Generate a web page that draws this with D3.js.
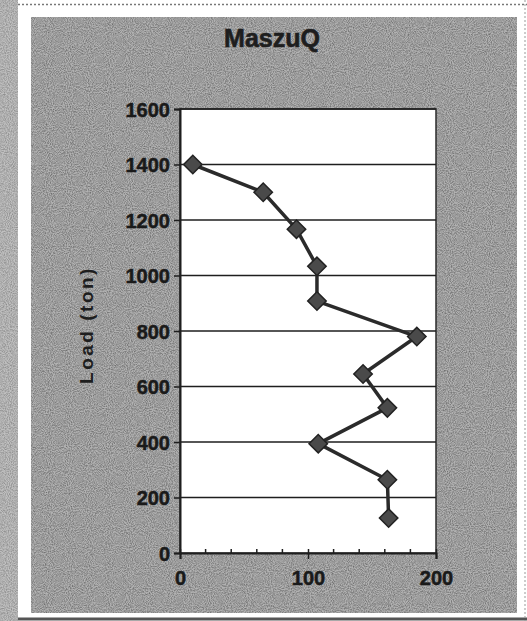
<!DOCTYPE html>
<html><head><meta charset="utf-8">
<script src="https://cdn.jsdelivr.net/npm/d3@7"></script>
<style>html,body{margin:0;padding:0;background:#fff;}svg{display:block;}</style>
</head><body>
<script>
// ---- data ----
const title = "MaszuQ";
const yLabel = "Load (ton)";
const loads = [1400, 1300, 1167, 1033, 908, 780, 645, 523, 394, 264, 126];
const settlements = [10, 65, 91, 107, 107, 185, 143, 162, 108, 162, 163];
const yTicks = [0, 200, 400, 600, 800, 1000, 1200, 1400, 1600];
const xTicks = [0, 100, 200];
const xMinorTicks = [20, 40, 60, 80, 120, 140, 160, 180];

const W = 527, H = 621;
const svg = d3.select("body").append("svg").attr("width", W).attr("height", H);

// noise texture filter
const defs = svg.append("defs");
const f = defs.append("filter").attr("id", "noise").attr("x", 0).attr("y", 0).attr("width", "100%").attr("height", "100%");
f.append("feTurbulence").attr("type", "fractalNoise").attr("baseFrequency", 0.95).attr("numOctaves", 2).attr("seed", 3).attr("result", "t");
f.append("feColorMatrix").attr("type", "matrix")
  .attr("values", "0 0 0 0 0  0 0 0 0 0  0 0 0 0 0  0 0 0 -1.6 1.1");

// page framing
svg.append("rect").attr("x", 0).attr("y", 0).attr("width", 18).attr("height", H).attr("fill", "#c0c0c0");
svg.append("rect").attr("x", 0).attr("y", 0).attr("width", 18).attr("height", H).attr("fill", "#000").attr("filter", "url(#noise)").attr("opacity", 0.3);
svg.append("line").attr("x1", 18).attr("x2", W).attr("y1", 4.5).attr("y2", 4.5).attr("stroke", "#777").attr("stroke-width", 1.5).attr("stroke-dasharray", "2,2");
svg.append("line").attr("x1", 18).attr("x2", W).attr("y1", 619).attr("y2", 619).attr("stroke", "#555").attr("stroke-width", 3);
svg.append("line").attr("x1", 525).attr("x2", 525).attr("y1", 0).attr("y2", H).attr("stroke", "#999").attr("stroke-width", 1).attr("stroke-dasharray", "2,2");

// chart background (grey scanned look)
const bg = {x: 31, y: 17, w: 486, h: 596};
svg.append("rect").attr("x", bg.x).attr("y", bg.y).attr("width", bg.w).attr("height", bg.h).attr("fill", "#b2b2b2");
svg.append("rect").attr("x", bg.x).attr("y", bg.y).attr("width", bg.w).attr("height", bg.h).attr("fill", "#000").attr("filter", "url(#noise)").attr("opacity", 0.42);

// scales
const x = d3.scaleLinear().domain([0, 200]).range([180, 436]);
const y = d3.scaleLinear().domain([0, 1600]).range([553, 109]);

// plot area
svg.append("rect").attr("x", x(0)).attr("y", y(1600)).attr("width", x(200) - x(0)).attr("height", y(0) - y(1600))
  .attr("fill", "#fff").attr("stroke", "#2a2a2a").attr("stroke-width", 1.5);

// gridlines
svg.append("g").selectAll("line").data(yTicks.filter(d => d > 0)).join("line")
  .attr("x1", x(0)).attr("x2", x(200)).attr("y1", d => y(d)).attr("y2", d => y(d))
  .attr("stroke", "#1e1e1e").attr("stroke-width", 1.5);

const fontFam = "Liberation Sans, Arial, sans-serif";

// y axis
const yAxis = d3.axisLeft(y).tickValues(yTicks).tickSize(6).tickPadding(4).tickFormat(d3.format("d"));
const gy = svg.append("g").attr("transform", `translate(${x(0)},0)`).call(yAxis);
gy.select(".domain").attr("stroke", "#1e1e1e").attr("stroke-width", 2);
gy.selectAll(".tick line").attr("stroke", "#1e1e1e").attr("stroke-width", 1.5);
gy.selectAll(".tick text").attr("font-family", fontFam).attr("font-size", 20)
  .attr("font-weight", "bold").attr("fill", "#1a1a1a").attr("stroke", "#1a1a1a").attr("stroke-width", 0.5).attr("dy", "0.36em");

// x axis
const xAxis = d3.axisBottom(x).tickValues(xTicks).tickSize(6).tickPadding(12).tickFormat(d3.format("d"));
const gx = svg.append("g").attr("transform", `translate(0,${y(0)})`).call(xAxis);
gx.select(".domain").attr("stroke", "#1e1e1e").attr("stroke-width", 2);
gx.selectAll(".tick line").attr("stroke", "#1e1e1e").attr("stroke-width", 1.5).attr("y1", -4);
gx.selectAll(".tick text").attr("font-family", fontFam).attr("font-size", 20)
  .attr("font-weight", "bold").attr("fill", "#1a1a1a").attr("stroke", "#1a1a1a").attr("stroke-width", 0.5);
// minor ticks (inside)
svg.append("g").selectAll("line").data(xMinorTicks).join("line")
  .attr("x1", d => x(d)).attr("x2", d => x(d)).attr("y1", y(0)).attr("y2", y(0) - 4)
  .attr("stroke", "#1e1e1e").attr("stroke-width", 1.5);

// line
const pts = loads.map((l, i) => ({load: l, s: settlements[i]}));
svg.append("path").datum(pts)
  .attr("d", d3.line().x(d => x(d.s)).y(d => y(d.load)))
  .attr("fill", "none").attr("stroke", "#2b2b2b").attr("stroke-width", 3.5).attr("stroke-linejoin", "round");

// markers
svg.append("g").selectAll("path").data(pts).join("path")
  .attr("transform", d => `translate(${x(d.s)},${y(d.load)}) rotate(45)`)
  .attr("d", d3.symbol().type(d3.symbolSquare).size(170))
  .attr("fill", "#4a4a4a").attr("stroke", "#222").attr("stroke-width", 1.5);

// title
svg.append("text").attr("x", 272).attr("y", 47).attr("text-anchor", "middle")
  .attr("font-family", fontFam).attr("font-size", 25).attr("font-weight", "bold")
  .attr("fill", "#1e1e1e").attr("stroke", "#1e1e1e").attr("stroke-width", 0.6).text(title);

// y label
svg.append("text").attr("transform", "translate(93,325) rotate(-90)").attr("text-anchor", "middle")
  .attr("font-family", fontFam).attr("font-size", 19).attr("font-weight", "bold")
  .attr("letter-spacing", 2.5).attr("fill", "#1e1e1e").text(yLabel);
</script>
</body></html>
